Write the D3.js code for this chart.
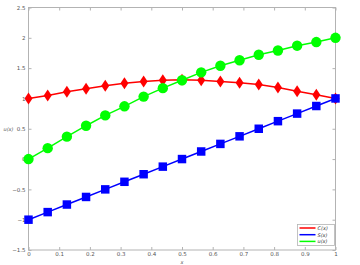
<!DOCTYPE html>
<html>
<head>
<meta charset="utf-8">
<script src="https://cdn.jsdelivr.net/npm/d3@7"></script>
<style>
  body { margin: 0; background: #fff; }
  text { font-family: "DejaVu Sans", sans-serif; }
</style>
</head>
<body>
<div id="chart"></div>
<script>
var xs = d3.range(17).map(function(i) { return i / 16; });
var cVals = [1.00, 1.05, 1.11, 1.16, 1.21, 1.25, 1.28, 1.30, 1.31, 1.30, 1.28, 1.26, 1.23, 1.18, 1.12, 1.06, 1.00];
var sVals = [-1.0, -0.875, -0.75, -0.625, -0.5, -0.375, -0.25, -0.125, 0, 0.125, 0.25, 0.375, 0.5, 0.625, 0.75, 0.875, 1.0];
var uVals = [0, 0.18, 0.37, 0.55, 0.72, 0.87, 1.03, 1.17, 1.30, 1.43, 1.54, 1.63, 1.72, 1.79, 1.87, 1.93, 2.00];
var xTicks = [0, 0.1, 0.2, 0.3, 0.4, 0.5, 0.6, 0.7, 0.8, 0.9, 1];
var yTicks = [-1.5, -1, -0.5, 0, 0.5, 1, 1.5, 2, 2.5];
var seriesNames = ["C(x)", "S(x)", "u(x)"];

var width = 360, height = 265;
var margin = {left: 28.5, right: 24.5, top: 7.5, bottom: 15};

var svg = d3.select("#chart").append("svg")
    .attr("width", width)
    .attr("height", height);

var x = d3.scaleLinear().domain([0, 1]).range([margin.left, width - margin.right]);
var y = d3.scaleLinear().domain([-1.5, 2.5]).range([height - margin.bottom, margin.top]);

var axisColor = "#b3b3b3", labelColor = "#555";

// box
svg.append("rect")
    .attr("x", x(0)).attr("y", y(2.5))
    .attr("width", x(1) - x(0)).attr("height", y(-1.5) - y(2.5))
    .attr("fill", "none").attr("stroke", axisColor).attr("stroke-width", 1);

// axes, ticks pointing inward
var fmt = function(d) { return d3.format("")(d); };
svg.append("g")
    .attr("transform", "translate(0," + y(-1.5) + ")")
    .call(d3.axisBottom(x).tickValues(xTicks).tickSize(-3).tickPadding(2.5).tickFormat(fmt))
    .call(function(g) { g.select(".domain").remove(); });
svg.append("g")
    .attr("transform", "translate(0," + y(2.5) + ")")
    .call(d3.axisTop(x).tickValues(xTicks).tickSize(-3).tickFormat(""))
    .call(function(g) { g.select(".domain").remove(); });
svg.append("g")
    .attr("transform", "translate(" + x(0) + ",0)")
    .call(d3.axisLeft(y).tickValues(yTicks).tickSize(-3).tickPadding(3).tickFormat(fmt))
    .call(function(g) { g.select(".domain").remove(); });
svg.append("g")
    .attr("transform", "translate(" + x(1) + ",0)")
    .call(d3.axisRight(y).tickValues(yTicks).tickSize(-3).tickFormat(""))
    .call(function(g) { g.select(".domain").remove(); });

svg.selectAll(".tick line").attr("stroke", axisColor);
svg.selectAll(".tick text").attr("fill", labelColor).style("font-size", "5.5px");

// axis labels
svg.append("text")
    .attr("x", 8.5).attr("y", y(0.5) + 2)
    .attr("text-anchor", "middle")
    .attr("fill", labelColor)
    .style("font-size", "5px").style("font-style", "italic")
    .text("u(x)");
svg.append("text")
    .attr("x", x(0.5)).attr("y", 263.5)
    .attr("text-anchor", "middle")
    .attr("fill", labelColor)
    .style("font-size", "5px").style("font-style", "italic")
    .text("x");

var series = [
  {name: seriesNames[0], vals: cVals, color: "#ff0000", marker: "diamond"},
  {name: seriesNames[1], vals: sVals, color: "#0000ff", marker: "square"},
  {name: seriesNames[2], vals: uVals, color: "#00ff00", marker: "circle"}
];

var line = d3.line()
    .x(function(d) { return x(d[0]); })
    .y(function(d) { return y(d[1]); });

series.forEach(function(s) {
  var pts = xs.map(function(v, i) { return [v, s.vals[i]]; });
  svg.append("path")
      .datum(pts)
      .attr("d", line)
      .attr("fill", "none")
      .attr("stroke", s.color)
      .attr("stroke-width", 1.5);

  var sym;
  if (s.marker === "diamond") {
    sym = "M0,-6L4,0L0,6L-4,0Z";
  } else if (s.marker === "square") {
    sym = d3.symbol().type(d3.symbolSquare).size(72)();
  } else {
    sym = d3.symbol().type(d3.symbolCircle).size(85)();
  }
  svg.selectAll(null)
      .data(pts)
      .enter().append("path")
      .attr("d", sym)
      .attr("transform", function(d) { return "translate(" + x(d[0]) + "," + y(d[1]) + ")"; })
      .attr("fill", s.color);
});

// legend
var lg = svg.append("g").attr("transform", "translate(297.5,224.5)");
lg.append("rect")
    .attr("width", 37).attr("height", 21)
    .attr("fill", "#fff").attr("stroke", axisColor).attr("stroke-width", 0.8);
series.forEach(function(s, i) {
  var yy = 3.5 + i * 6.7;
  lg.append("line")
      .attr("x1", 2).attr("x2", 18).attr("y1", yy).attr("y2", yy)
      .attr("stroke", s.color).attr("stroke-width", 1.5);
  lg.append("text")
      .attr("x", 20).attr("y", yy + 1.8)
      .attr("fill", "#333")
      .style("font-size", "5px").style("font-style", "italic")
      .text(s.name);
});
</script>
</body>
</html>
